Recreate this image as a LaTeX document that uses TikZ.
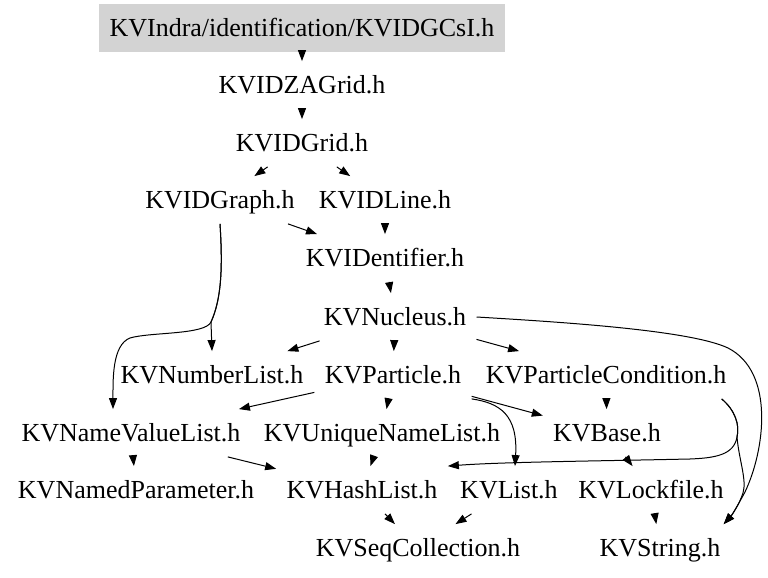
\documentclass[tikz,border=0pt]{standalone}
\usepackage{fontspec}
\setmainfont{Liberation Serif}
\usetikzlibrary{arrows.meta,calc}
\definecolor{rootgray}{HTML}{D3D3D3}
\begin{document}
\begin{tikzpicture}[x=0.5pt,y=-0.5pt,
  hdr/.style={inner xsep=5pt, inner ysep=0pt, text height=10pt, text depth=2pt, minimum height=23.5pt, font=\fontsize{13}{15}\selectfont, anchor=center},
  rootbox/.style={hdr, fill=rootgray, draw=rootgray, minimum width=202.5pt},
  edge/.style={-{Triangle[length=5.5pt,width=4pt]}, line width=0.5pt, black}]
\useasboundingbox (0,0) rectangle (768,578);
\node[rootbox] (gcsi) at (302,28) {KVIndra/identification/KVIDGCsI.h};
\node[hdr] (zagrid) at (302,85) {KVIDZAGrid.h};
\node[hdr] (grid) at (302,143) {KVIDGrid.h};
\node[hdr] (graph) at (220,200) {KVIDGraph.h};
\node[hdr] (line) at (385,200) {KVIDLine.h};
\node[hdr] (ident) at (385,258) {KVIDentifier.h};
\node[hdr] (nucl) at (395,317) {KVNucleus.h};
\node[hdr] (numl) at (212,375) {KVNumberList.h};
\node[hdr] (part) at (393,375) {KVParticle.h};
\node[hdr] (pcond) at (606,375) {KVParticleCondition.h};
\node[hdr] (nvl) at (131,433) {KVNameValueList.h};
\node[hdr] (unl) at (382,433) {KVUniqueNameList.h};
\node[hdr] (base) at (607,433) {KVBase.h};
\node[hdr] (npar) at (136,490) {KVNamedParameter.h};
\node[hdr] (hash) at (362,490) {KVHashList.h};
\node[hdr] (list) at (509,490) {KVList.h};
\node[hdr] (lock) at (651,490) {KVLockfile.h};
\node[hdr] (seq) at (418,548) {KVSeqCollection.h};
\node[hdr] (str) at (660,548) {KVString.h};

\draw[edge] (gcsi) -- (zagrid);
\draw[edge] (zagrid) -- (grid);
\draw[edge] (grid) -- (graph);
\draw[edge] (grid) -- (line);
\draw[edge] (graph) -- (ident);
\draw[edge] (line) -- (ident);
\draw[edge] (ident) -- (nucl);
\draw[edge] (graph.south) .. controls (223,270) and (221,300) .. (211,322) -- (numl.north);
\draw[edge] (graph.south) .. controls (223,270) and (221,300) .. (211,322)
   .. controls (205,335) and (150,332) .. (130,338)
   .. controls (112,345) and (113,380) .. ($(nvl.north)+(-18,0)$);
\draw[edge] (nucl) -- (numl);
\draw[edge] (nucl) -- (part);
\draw[edge] (nucl) -- (pcond);
\draw[edge] (nucl.east) .. controls (560,322) and (690,330) .. (728,348)
   .. controls (775,372) and (765,450) .. (745,492)
   .. controls (738,505) and (732,515) .. ($(str.north east)+(-7,0)$);
\draw[edge] (part) -- (nvl);
\draw[edge] (part) -- (unl);
\draw[edge] (part) -- (base);
\draw[edge] (part.south east) .. controls (500,403) and (518,415) .. ($(list.north)+(6,0)$);
\draw[edge] (pcond) -- (base);
\draw[edge] ($(pcond.south east)+(-15,0)$) .. controls (735,410) and (740,425) .. (737,437)
   .. controls (734,455) and (715,458) .. (690,459)
   .. controls (600,461) and (500,462) .. (hash.north east);
\draw[edge] ($(pcond.south east)+(-15,0)$) .. controls (735,410) and (740,425) .. (737,437)
   .. controls (739,460) and (747,480) .. (743,493)
   .. controls (739,505) and (732,515) .. ($(str.north east)+(-7,0)$);
\draw[edge] (nvl) -- (npar);
\draw[edge] (nvl) -- (hash);
\draw[edge] (unl) -- (hash);
\draw[edge] (base) -- (lock);
\draw[edge] (lock) -- (str);
\draw[edge] (hash) -- (seq);
\draw[edge] (list) -- (seq);
\end{tikzpicture}
\end{document}
